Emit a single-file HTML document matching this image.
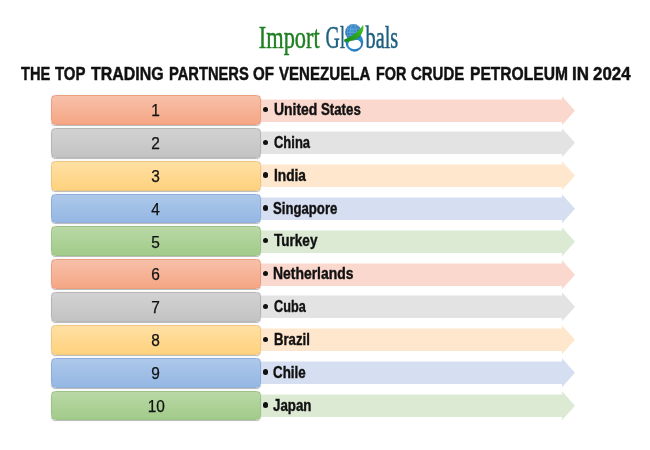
<!DOCTYPE html>
<html>
<head>
<meta charset="utf-8">
<style>
html,body{margin:0;padding:0;background:#fff;}
body{width:650px;height:450px;position:relative;overflow:hidden;font-family:"Liberation Sans",sans-serif;}
#page{position:absolute;left:0;top:0;width:650px;height:450px;filter:blur(0.4px);}
#title{position:absolute;left:0;top:62.6px;width:650px;height:22px;font-weight:bold;font-size:18.2px;line-height:22px;color:#111;}
#title span{position:absolute;top:0;white-space:nowrap;transform-origin:0 0;-webkit-text-stroke:0.45px #111;}
.row{position:absolute;left:0;width:650px;height:31px;}
.box{position:absolute;left:51px;top:0.6px;width:208.4px;height:27.9px;border-radius:4.5px;border:1px solid #999;box-sizing:content-box;box-shadow:0 0.7px 0.8px rgba(80,80,80,0.4);}
.num{position:absolute;left:96px;width:120px;top:0;height:31px;line-height:31px;text-align:center;font-size:16.6px;color:#111;}
.num span{display:inline-block;transform:scaleX(0.93);-webkit-text-stroke:0.25px #111;}
.arrow{position:absolute;left:0;top:0;}
.dot{position:absolute;left:263.2px;top:12.3px;width:5.3px;height:5.3px;border-radius:50%;background:#111;}
.lbl{position:absolute;top:0;height:31px;line-height:30px;font-weight:bold;font-size:15.8px;color:#111;white-space:nowrap;transform-origin:0 50%;-webkit-text-stroke:0.4px #111;}
.c1 .box{background:linear-gradient(#f7c0aa,#f5a684);border-color:#eb9d80;}
.c2 .box{background:linear-gradient(#d2d2d2,#c3c3c3);border-color:#b6b6b6;}
.c3 .box{background:linear-gradient(#ffe0a3,#ffd27e);border-color:#efc77e;}
.c4 .box{background:linear-gradient(#adc8ea,#94b7e3);border-color:#8faedb;}
.c5 .box{background:linear-gradient(#b9d8a6,#a2cb8a);border-color:#9bc386;}
.c1 polygon{fill:#fad8ce;}
.c2 polygon{fill:#e3e3e3;}
.c3 polygon{fill:#fee7cc;}
.c4 polygon{fill:#d6def1;}
.c5 polygon{fill:#dcead4;}
#logo{position:absolute;left:0;top:0;width:650px;height:60px;}
</style>
</head>
<body>
<div id="page">
<svg id="logo" viewBox="0 0 650 60">
  <defs>
    <radialGradient id="gg" cx="0.45" cy="0.4" r="0.65">
      <stop offset="0" stop-color="#469cd9"/><stop offset="0.65" stop-color="#2777bc"/><stop offset="1" stop-color="#1a5a98"/>
    </radialGradient>
    <linearGradient id="rg" x1="0" y1="0" x2="1" y2="1">
      <stop offset="0" stop-color="#1b6f9c"/><stop offset="0.55" stop-color="#2b93d6"/><stop offset="1" stop-color="#1c5fa6"/>
    </linearGradient>
    <linearGradient id="sg" x1="0" y1="1" x2="1" y2="0">
      <stop offset="0" stop-color="#138a1a"/><stop offset="0.55" stop-color="#2ea820"/><stop offset="1" stop-color="#52c82a"/>
    </linearGradient>
    <clipPath id="gc"><circle cx="353.3" cy="32.3" r="8.2"/></clipPath>
    <clipPath id="rc"><path d="M340 40.6 C350 39.5 358.5 36 364.5 28 L366 56 L340 56 Z"/></clipPath>
  </defs>
  <g font-family="Liberation Serif, serif" font-size="31.8" stroke-width="0.5">
    <text transform="translate(258.84,47.5) scale(0.7037,1)" fill="#1f7f22" stroke="#1f7f22">Import</text>
    <text transform="translate(325.44,47.5) scale(0.6205,1)" fill="#1d5f7f" stroke="#1d5f7f">G</text>
    <text transform="translate(339.88,47.5) scale(0.567,1)" fill="#1d5f7f" stroke="#1d5f7f">l</text>
    <text transform="translate(365.5,47.5) scale(0.6381,1)" fill="#1d5f7f" stroke="#1d5f7f">bals</text>
  </g>
  <g>
    <path clip-path="url(#rc)" fill-rule="evenodd" fill="url(#rg)" d="M354.4 32.3 A8.9 9.7 0 1 0 354.4 51.7 A8.9 9.7 0 1 0 354.4 32.3 Z M354.6 39.4 A6.4 4.9 0 1 1 354.6 49.2 A6.4 4.9 0 1 1 354.6 39.4 Z"/>
    <circle cx="353.3" cy="32.3" r="8.2" fill="url(#gg)"/>
    <g clip-path="url(#gc)" stroke="#d7ecfa" stroke-width="0.45" fill="none" opacity="0.5">
      <ellipse cx="353.3" cy="32.3" rx="3.2" ry="8.2"/>
      <ellipse cx="353.3" cy="32.3" rx="6.2" ry="8.2"/>
      <path d="M345 29 H362 M345 32.3 H362 M345 35.6 H362 M347 26 H360"/>
    </g>
    <path d="M344.2 39.4 C350 37.5 357.5 33 363.2 24.8 C365 32 359 41.5 345.2 42 Q343.4 41.6 344.2 39.4 Z" fill="url(#sg)"/>
  </g>
</svg>
<div id="title">
<span style="left:21.0px;transform:scaleX(0.8056)">THE</span>
<span style="left:55.39px;transform:scaleX(0.8221)">TOP</span>
<span style="left:90.68px;transform:scaleX(0.8761)">TRADING</span>
<span style="left:168.59px;transform:scaleX(0.8083)">PARTNERS</span>
<span style="left:253.18px;transform:scaleX(0.8295)">OF</span>
<span style="left:279.09px;transform:scaleX(0.8293)">VENEZUELA</span>
<span style="left:375.81px;transform:scaleX(0.7918)">FOR</span>
<span style="left:411.48px;transform:scaleX(0.8221)">CRUDE</span>
<span style="left:469.63px;transform:scaleX(0.8573)">PETROLEUM</span>
<span style="left:571.83px;transform:scaleX(0.9333)">IN</span>
<span style="left:593.3px;transform:scaleX(0.9283)">2024</span>
</div>
<div class="row c1" style="top:94.50px">
<svg class="arrow" width="650" height="32" viewBox="0 0 650 32"><polygon points="256,4.6 562,4.6 562,1.3 575,15.8 562,30.3 562,27 256,27"/></svg>
<div class="box"></div><div class="num" style="top:0.50px"><span>1</span></div>
<div class="dot"></div>
<div class="lbl" style="left:274.12px;top:0.50px;transform:scaleX(0.883)">United</div><div class="lbl" style="left:321.08px;top:0.50px;transform:scaleX(0.8389)">States</div>
</div>
<div class="row c2" style="top:127.33px">
<svg class="arrow" width="650" height="32" viewBox="0 0 650 32"><polygon points="256,4.6 562,4.6 562,1.3 575,15.8 562,30.3 562,27 256,27"/></svg>
<div class="box"></div><div class="num" style="top:0.67px"><span>2</span></div>
<div class="dot"></div>
<div class="lbl" style="left:273.58px;top:0.67px;transform:scaleX(0.8208)">China</div>
</div>
<div class="row c3" style="top:160.16px">
<svg class="arrow" width="650" height="32" viewBox="0 0 650 32"><polygon points="256,4.6 562,4.6 562,1.3 575,15.8 562,30.3 562,27 256,27"/></svg>
<div class="box"></div><div class="num" style="top:0.84px"><span>3</span></div>
<div class="dot"></div>
<div class="lbl" style="left:273.73px;top:0.84px;transform:scaleX(0.8667)">India</div>
</div>
<div class="row c4" style="top:192.99px">
<svg class="arrow" width="650" height="32" viewBox="0 0 650 32"><polygon points="256,4.6 562,4.6 562,1.3 575,15.8 562,30.3 562,27 256,27"/></svg>
<div class="box"></div><div class="num" style="top:1.01px"><span>4</span></div>
<div class="dot"></div>
<div class="lbl" style="left:273.48px;top:1.01px;transform:scaleX(0.8328)">Singapore</div>
</div>
<div class="row c5" style="top:225.82px">
<svg class="arrow" width="650" height="32" viewBox="0 0 650 32"><polygon points="256,4.6 562,4.6 562,1.3 575,15.8 562,30.3 562,27 256,27"/></svg>
<div class="box"></div><div class="num" style="top:1.18px"><span>5</span></div>
<div class="dot"></div>
<div class="lbl" style="left:273.69px;top:0.18px;transform:scaleX(0.8577)">Turkey</div>
</div>
<div class="row c1" style="top:258.65px">
<svg class="arrow" width="650" height="32" viewBox="0 0 650 32"><polygon points="256,4.6 562,4.6 562,1.3 575,15.8 562,30.3 562,27 256,27"/></svg>
<div class="box"></div><div class="num" style="top:0.35px"><span>6</span></div>
<div class="dot"></div>
<div class="lbl" style="left:273.42px;top:0.35px;transform:scaleX(0.8816)">Netherlands</div>
</div>
<div class="row c2" style="top:291.48px">
<svg class="arrow" width="650" height="32" viewBox="0 0 650 32"><polygon points="256,4.6 562,4.6 562,1.3 575,15.8 562,30.3 562,27 256,27"/></svg>
<div class="box"></div><div class="num" style="top:0.52px"><span>7</span></div>
<div class="dot"></div>
<div class="lbl" style="left:273.7px;top:0.52px;transform:scaleX(0.8026)">Cuba</div>
</div>
<div class="row c3" style="top:324.31px">
<svg class="arrow" width="650" height="32" viewBox="0 0 650 32"><polygon points="256,4.6 562,4.6 562,1.3 575,15.8 562,30.3 562,27 256,27"/></svg>
<div class="box"></div><div class="num" style="top:0.69px"><span>8</span></div>
<div class="dot"></div>
<div class="lbl" style="left:273.67px;top:0.69px;transform:scaleX(0.8317)">Brazil</div>
</div>
<div class="row c4" style="top:357.14px">
<svg class="arrow" width="650" height="32" viewBox="0 0 650 32"><polygon points="256,4.6 562,4.6 562,1.3 575,15.8 562,30.3 562,27 256,27"/></svg>
<div class="box"></div><div class="num" style="top:0.86px"><span>9</span></div>
<div class="dot"></div>
<div class="lbl" style="left:273.27px;top:0.86px;transform:scaleX(0.8456)">Chile</div>
</div>
<div class="row c5" style="top:389.97px">
<svg class="arrow" width="650" height="32" viewBox="0 0 650 32"><polygon points="256,4.6 562,4.6 562,1.3 575,15.8 562,30.3 562,27 256,27"/></svg>
<div class="box"></div><div class="num" style="top:1.03px"><span>10</span></div>
<div class="dot"></div>
<div class="lbl" style="left:273.19px;top:1.03px;transform:scaleX(0.8404)">Japan</div>
</div>
</div>
</body>
</html>
